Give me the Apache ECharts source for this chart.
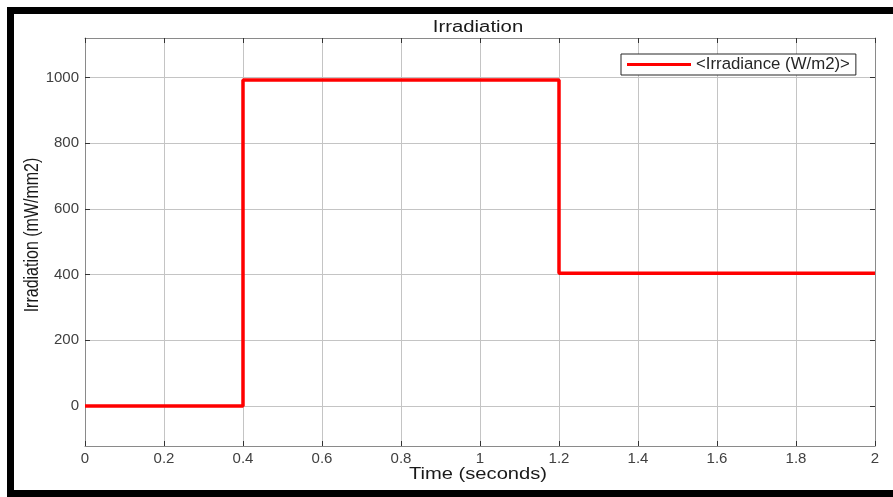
<!DOCTYPE html>
<html>
<head>
<meta charset="utf-8">
<script src="https://cdn.jsdelivr.net/npm/echarts@6/dist/echarts.min.js"></script>
<style>
html,body{margin:0;padding:0;background:#fff;}
#chart{width:893px;height:497px;}
</style>
</head>
<body>
<div id="chart"></div>
<script>
// ---- data ----
const seriesName = '<Irradiance (W/m2)>';
const times = [0, 0.4, 1.2, 2];
const levels = [0, 992, 404, 404];
const yTicks = [0, 200, 400, 600, 800, 1000];
const xMin = 0, xMax = 2, xStep = 0.2;
const yMin = -122, yMax = 1120;
const titleText = 'Irradiation';
const xName = 'Time (seconds)';
const yName = 'Irradiation (mW/mm2)';

const points = times.map((t, i) => [t, levels[i]]);
const FONT = '"Liberation Sans", Arial, Helvetica, sans-serif';

const chart = echarts.init(document.getElementById('chart'), null, {renderer: 'canvas'});

const axisLineStyle = {color: '#8a8a8a', width: 1};
const tickStyle = {color: '#333333', width: 1};
const gridStyle = {color: '#c4c4c4', width: 1};
const labelStyle = {color: '#404040', fontSize: 15, fontFamily: FONT};

chart.setOption({
  backgroundColor: '#ffffff',
  animation: false,
  grid: {left: 85, top: 38, right: 18, bottom: 51, containLabel: false},
  legend: {
    show: true,
    data: [seriesName],
    left: 621, top: 54,
    padding: [2, 6, 2, 6],
    borderColor: '#262626', borderWidth: 1,
    backgroundColor: '#ffffff',
    icon: 'rect', itemWidth: 64, itemHeight: 3, itemGap: 5,
    textStyle: {color: '#262626', fontSize: 16.8, fontFamily: FONT, lineHeight: 16},
    selectedMode: false
  },
  xAxis: [{
    type: 'value', min: xMin, max: xMax, interval: xStep, position: 'bottom',
    axisLine: {show: true, onZero: false, lineStyle: axisLineStyle},
    axisTick: {show: true, inside: true, length: 5, lineStyle: tickStyle},
    axisLabel: {show: true, margin: 5, formatter: v => String(+v.toFixed(1)), ...labelStyle},
    splitLine: {show: true, lineStyle: gridStyle}
  }, {
    type: 'value', min: xMin, max: xMax, interval: xStep, position: 'top',
    axisLine: {show: true, onZero: false, lineStyle: axisLineStyle},
    axisTick: {show: true, inside: true, length: 5, lineStyle: tickStyle},
    axisLabel: {show: false},
    splitLine: {show: false}
  }],
  yAxis: [{
    type: 'value', min: yMin, max: yMax, position: 'left',
    axisLine: {show: true, onZero: false, lineStyle: axisLineStyle},
    axisTick: {show: true, inside: true, length: 5, lineStyle: tickStyle, customValues: yTicks},
    axisLabel: {show: true, margin: 6, customValues: yTicks, formatter: v => String(v), ...labelStyle},
    splitLine: {show: true, lineStyle: gridStyle}
  }, {
    type: 'value', min: yMin, max: yMax, position: 'right',
    axisLine: {show: true, onZero: false, lineStyle: axisLineStyle},
    axisTick: {show: true, inside: true, length: 5, lineStyle: tickStyle, customValues: yTicks},
    axisLabel: {show: false},
    splitLine: {show: false}
  }],
  series: [{
    name: seriesName,
    type: 'line',
    xAxisIndex: 0, yAxisIndex: 0,
    data: points,
    step: 'end',
    showSymbol: false,
    symbol: 'none',
    lineStyle: {color: '#ff0000', width: 3.5},
    itemStyle: {color: '#ff0000'},
    z: 5
  }],
  graphic: [
    {type: 'rect', shape: {x: 7, y: 7, width: 886, height: 7}, style: {fill: '#000'}, z: 100},
    {type: 'rect', shape: {x: 7, y: 7, width: 7, height: 490}, style: {fill: '#000'}, z: 100},
    {type: 'rect', shape: {x: 7, y: 490, width: 886, height: 7}, style: {fill: '#000'}, z: 100},
    {type: 'text', x: 478, y: 28, scaleX: 1.27, scaleY: 1,
      style: {text: titleText, x: 0, y: 0, fill: '#1a1a1a', font: '16px ' + FONT, textAlign: 'center', textVerticalAlign: 'middle'}, z: 50},
    {type: 'text', x: 478, y: 475, scaleX: 1.26, scaleY: 1,
      style: {text: xName, x: 0, y: 0, fill: '#1a1a1a', font: '16px ' + FONT, textAlign: 'center', textVerticalAlign: 'middle'}, z: 50},
    {type: 'text', x: 32, y: 235, rotation: Math.PI / 2, scaleX: 1, scaleY: 1.27,
      style: {text: yName, x: 0, y: 0, fill: '#1a1a1a', font: '16px ' + FONT, textAlign: 'center', textVerticalAlign: 'middle'}, z: 50}
  ]
});
</script>
</body>
</html>
